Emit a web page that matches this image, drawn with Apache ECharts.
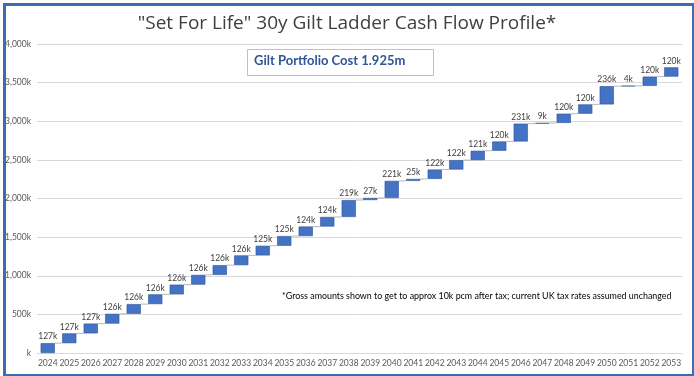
<!DOCTYPE html>
<html>
<head>
<meta charset="utf-8">
<script src="https://cdn.jsdelivr.net/npm/echarts@6/dist/echarts.min.js"></script>
<style>
  html, body { margin: 0; padding: 0; background: #fff; }
  #main { width: 694px; height: 376px; }
</style>
</head>
<body>
<div id="main"></div>
<script>
// years and yearly cash flow (k)
var years = ['2024', '2025', '2026', '2027', '2028', '2029', '2030', '2031', '2032', '2033',
    '2034', '2035', '2036', '2037', '2038', '2039', '2040', '2041', '2042', '2043',
    '2044', '2045', '2046', '2047', '2048', '2049', '2050', '2051', '2052', '2053'];
var cashFlow = [127, 127, 127, 126, 126, 126, 126, 126, 126, 126,
    125, 125, 124, 124, 219, 27, 221, 25, 122, 122,
    121, 120, 231, 9, 120, 120, 236, 4, 120, 120];
var yTicks = [0, 500, 1000, 1500, 2000, 2500, 3000, 3500, 4000];

// running total -> invisible base for each bar
var base = [];
var totals = [];
var run = 0;
for (var i = 0; i < cashFlow.length; i++) {
    base.push(run);
    run += cashFlow[i];
    totals.push(run);
}

var myChart = echarts.init(document.getElementById('main'));

var option = {
    animation: false,
    textStyle: { fontFamily: 'Lato' },
    title: {
        text: '"Set For Life" 30y Gilt Ladder Cash Flow Profile*',
        left: 'center',
        top: 9,
        textStyle: { fontFamily: 'Open Sans', fontSize: 19, fontWeight: 'normal', color: '#404040' }
    },
    grid: { left: 37, right: 12, top: 44, bottom: 23 },
    xAxis: {
        type: 'category',
        data: years,
        axisLine: { lineStyle: { color: '#d9d9d9' } },
        axisTick: { show: false },
        axisLabel: { color: '#595959', fontSize: 8.5, margin: 6, interval: 0 }
    },
    yAxis: {
        type: 'value',
        min: yTicks[0],
        max: yTicks[yTicks.length - 1],
        interval: 500,
        axisLine: { show: false },
        axisTick: { show: false },
        splitLine: { lineStyle: { color: '#d9d9d9' } },
        axisLabel: {
            color: '#595959', fontSize: 8.5, margin: 6,
            formatter: function (v) {
                return v === 0 ? 'k' : v.toLocaleString('en-US') + 'k';
            }
        }
    },
    series: [{
        name: 'base',
        type: 'bar',
        stack: 'wf',
        data: base,
        itemStyle: { color: 'transparent' },
        barCategoryGap: '34%',
        silent: true
    }, {
        name: 'cash flow',
        type: 'bar',
        stack: 'wf',
        data: cashFlow,
        itemStyle: { color: '#4472C4', borderColor: '#2F5597', borderWidth: 0.6 },
        label: {
            show: true,
            position: 'top',
            distance: 2,
            fontSize: 8.5,
            color: '#404040',
            formatter: '{c}k'
        }
    }, {
        name: 'connector',
        type: 'custom',
        data: totals.slice(0, totals.length - 1).map(function (v, idx) { return [idx, v]; }),
        renderItem: function (params, api) {
            var p1 = api.coord([api.value(0), api.value(1)]);
            var p2 = api.coord([api.value(0) + 1, api.value(1)]);
            var w = api.size([1, 0])[0] * 0.33;
            return {
                type: 'line',
                shape: { x1: p1[0] + w, y1: p1[1], x2: p2[0] - w, y2: p2[1] },
                style: { stroke: '#a6a6a6', lineWidth: 0.8 }
            };
        },
        silent: true,
        z: 1
    }],
    graphic: [{
        type: 'rect',
        left: 2, top: 2,
        shape: { width: 689, height: 371 },
        style: { fill: 'none', stroke: '#3B6DB5', lineWidth: 3 },
        z: 100
    }, {
        type: 'rect',
        left: 247, top: 49,
        shape: { width: 186, height: 26 },
        style: { fill: '#fff', stroke: '#bfbfbf', lineWidth: 1 },
        z: 50
    }, {
        type: 'text',
        left: 254, top: 54,
        style: {
            text: 'Gilt Portfolio Cost 1.925m',
            font: 'bold 13px Lato',
            fill: '#2F5597'
        },
        z: 51
    }, {
        type: 'text',
        left: 282, top: 292,
        style: {
            text: '*Gross amounts shown to get to approx 10k pcm after tax; current UK tax rates assumed unchanged',
            font: '8.9px Lato',
            fill: '#000'
        },
        z: 51
    }]
};

myChart.setOption(option);
</script>
</body>
</html>
